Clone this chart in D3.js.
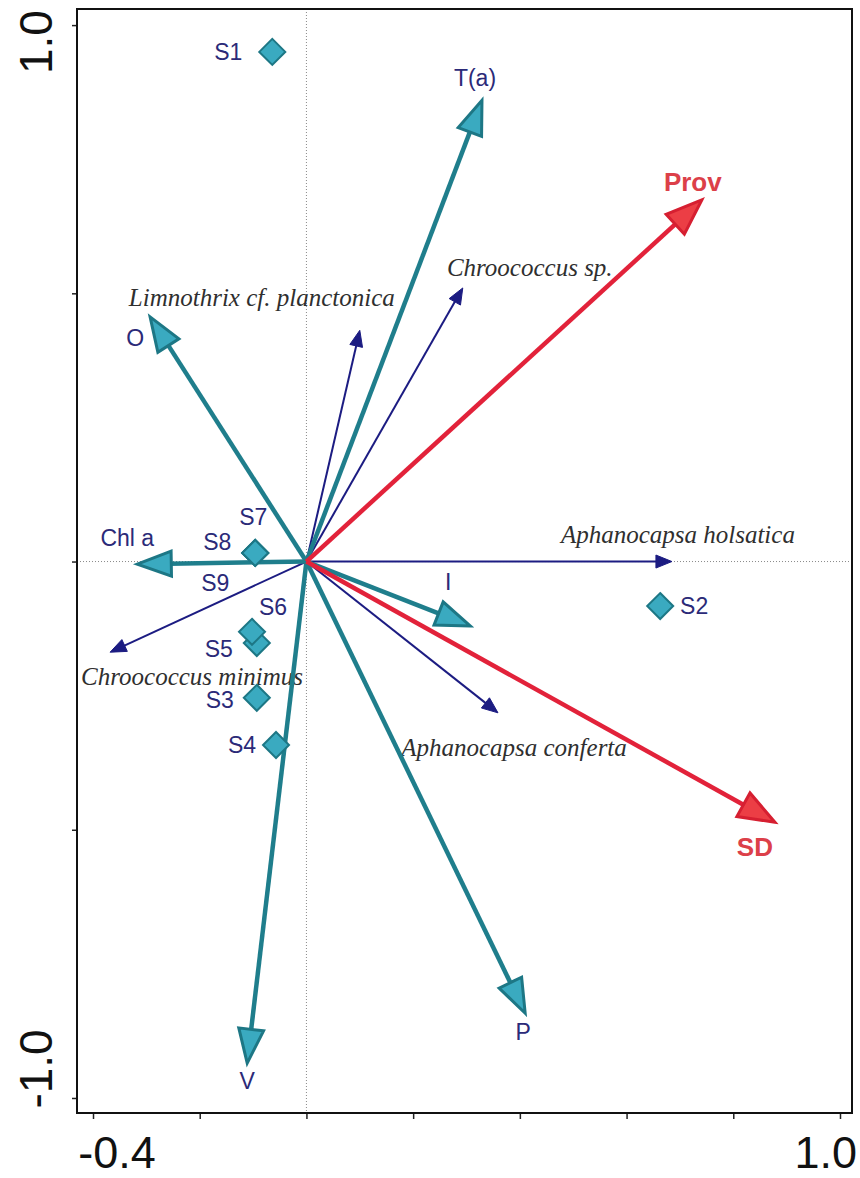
<!DOCTYPE html>
<html>
<head>
<meta charset="utf-8">
<script src="https://cdnjs.cloudflare.com/ajax/libs/d3/7.8.5/d3.min.js"></script>
<style>
  html, body { margin: 0; padding: 0; background: #fff; }
  svg { display: block; }
</style>
</head>
<body>
<svg id="chart" width="860" height="1178"></svg>
<script>
// RDA biplot: environmental vectors, species vectors and sampling sites

// environmental variables (teal)
const envNames = ["T(a)", "O", "Chl a", "V", "P", "I"];
const envX = [0.329, -0.293, -0.317, -0.111, 0.410, 0.307];
const envY = [0.860, 0.456, -0.005, -0.935, -0.842, -0.120];

// highlighted variables (red)
const keyNames = ["Prov", "SD"];
const keyX = [0.741, 0.878];
const keyY = [0.674, -0.486];

// species (navy, thin)
const spNames = ["Aphanocapsa holsatica", "Aphanocapsa conferta", "Chroococcus sp.", "Chroococcus minimus", "Limnothrix cf. planctonica"];
const spX = [0.685, 0.359, 0.293, -0.368, 0.100];
const spY = [0.000, -0.282, 0.510, -0.169, 0.431];

// sites
const siteNames = ["S1", "S2", "S3", "S4", "S5", "S6", "S7", "S8", "S9"];
const siteX = [-0.064, 0.663, -0.093, -0.057, -0.093, -0.102, -0.096, -0.096, -0.096];
const siteY = [0.950, -0.083, -0.254, -0.342, -0.152, -0.131, 0.016, 0.016, 0.016];

// axis ticks
const xTicks = [-0.4, -0.2, 0, 0.2, 0.4, 0.6, 0.8, 1.0];
const yTicks = [-1.0, -0.5, 0, 0.5, 1.0];
const xTickLabels = ["-0.4", "1.0"];
const yTickLabels = ["-1.0", "1.0"];

// label placement (pixel offsets from the point / arrow tip)
const labelOffset = {
  "T(a)": [-7, -22], "O": [-15, 21], "Chl a": [-10, -26], "V": [0, 18], "P": [-2, 19], "I": [-22, -44],
  "Prov": [-9, -18], "SD": [-20, 25],
  "Aphanocapsa holsatica": [6, -27], "Aphanocapsa conferta": [16, 35], "Chroococcus sp.": [67, -20],
  "Chroococcus minimus": [82, 24], "Limnothrix cf. planctonica": [-98, -33],
  "S1": [-44, 0], "S2": [34, 0], "S3": [-37, 2], "S4": [-34, 0], "S5": [-38, 6],
  "S6": [21, -25], "S7": [-2, -36], "S8": [-38, -11], "S9": [-40, 30]
};

const svg = d3.select("#chart");
const plotLeft = 77, plotRight = 852, plotTop = 9, plotBottom = 1113;

const x = d3.scaleLinear().domain([-0.43, 1.0225]).range([plotLeft, plotRight]);
const y = d3.scaleLinear().domain([-1.028, 1.03]).range([plotBottom, plotTop]);

const SANS = "'Liberation Sans', Arial, Helvetica, sans-serif";
const SERIF = "'Liberation Serif', 'Times New Roman', serif";
const labelColor = "#2b2a78";

// zero reference lines
svg.append("line").attr("x1", x(0)).attr("x2", x(0)).attr("y1", plotTop).attr("y2", plotBottom)
  .attr("stroke", "#8a8a8a").attr("stroke-width", 1).attr("stroke-dasharray", "1,2");
svg.append("line").attr("x1", plotLeft).attr("x2", plotRight).attr("y1", y(0)).attr("y2", y(0))
  .attr("stroke", "#8a8a8a").attr("stroke-width", 1).attr("stroke-dasharray", "1,2");

// axes with outward ticks; only end values labelled
const xAxis = d3.axisBottom(x).tickValues(xTicks).tickSize(6).tickFormat("");
const yAxis = d3.axisLeft(y).tickValues(yTicks).tickSize(5).tickFormat("");
const gx = svg.append("g").attr("transform", `translate(0,${plotBottom})`).call(xAxis);
const gy = svg.append("g").attr("transform", `translate(${plotLeft},0)`).call(yAxis);
[gx, gy].forEach(g => {
  g.select(".domain").remove();
  g.selectAll(".tick line").attr("stroke", "#222").attr("stroke-width", 1.5);
});

// frame
svg.append("rect").attr("x", plotLeft).attr("y", plotTop).attr("width", plotRight - plotLeft).attr("height", plotBottom - plotTop)
  .attr("fill", "none").attr("stroke", "#111").attr("stroke-width", 2);

// tick labels
svg.append("text").attr("x", x(-0.4) + 24).attr("y", 1168)
  .attr("text-anchor", "middle")
  .attr("font-family", SANS).attr("font-size", 45).attr("fill", "#111").text(xTickLabels[0]);
svg.append("text").attr("x", x(1.0) + 17).attr("y", 1168)
  .attr("text-anchor", "end")
  .attr("font-family", SANS).attr("font-size", 45).attr("fill", "#111").text(xTickLabels[1]);
svg.append("text").attr("transform", `translate(36,${y(-1.0) - 29}) rotate(-90)`)
  .attr("text-anchor", "middle").attr("dominant-baseline", "central")
  .attr("font-family", SANS).attr("font-size", 46).attr("fill", "#111").text(yTickLabels[0]);
svg.append("text").attr("transform", `translate(36,${y(1.0) + 17}) rotate(-90)`)
  .attr("text-anchor", "middle").attr("dominant-baseline", "central")
  .attr("font-family", SANS).attr("font-size", 46).attr("fill", "#111").text(yTickLabels[1]);

// arrow helper: shaft from origin to head base, triangular head at the tip
function arrow(g, vx, vy, opt) {
  const x0 = x(0), y0 = y(0), x1 = x(vx), y1 = y(vy);
  const dx = x1 - x0, dy = y1 - y0, len = Math.hypot(dx, dy);
  const ux = dx / len, uy = dy / len, px = -uy, py = ux;
  const bx = x1 - ux * opt.headLen, by = y1 - uy * opt.headLen;
  g.append("line").attr("x1", x0).attr("y1", y0).attr("x2", bx + ux * 2).attr("y2", by + uy * 2)
    .attr("stroke", opt.color).attr("stroke-width", opt.width).attr("stroke-linecap", "butt");
  const pts = [[x1, y1], [bx + px * opt.headW, by + py * opt.headW], [bx - px * opt.headW, by - py * opt.headW]];
  g.append("path").attr("d", d3.line()(pts) + "Z")
    .attr("fill", opt.fill).attr("stroke", opt.headStroke).attr("stroke-width", opt.headStrokeW)
    .attr("stroke-linejoin", "miter");
}

function label(g, name, px, py, style) {
  const off = labelOffset[name] || [0, 0];
  g.append("text").attr("x", px + off[0]).attr("y", py + off[1])
    .attr("text-anchor", "middle").attr("dominant-baseline", "central")
    .attr("font-family", style.family).attr("font-size", style.size)
    .attr("font-style", style.italic ? "italic" : "normal")
    .attr("font-weight", style.bold ? "bold" : "normal")
    .attr("fill", style.color).text(name);
}

// species vectors
const gSp = svg.append("g");
spNames.forEach((n, i) => {
  label(gSp, n, x(spX[i]), y(spY[i]), { family: SERIF, size: 25, italic: true, color: "#2f2f2f" });
});
spNames.forEach((n, i) => {
  arrow(gSp, spX[i], spY[i], { color: "#1c1c82", width: 2, headLen: 16, headW: 6.5, fill: "#1c1c82", headStroke: "#1c1c82", headStrokeW: 1 });
});

// environmental vectors
const gEnv = svg.append("g");
envNames.forEach((n, i) => {
  arrow(gEnv, envX[i], envY[i], { color: "#1f7e8c", width: 4.5, headLen: 34, headW: 12.5, fill: "#3aaac0", headStroke: "#1d7785", headStrokeW: 3 });
  label(gEnv, n, x(envX[i]), y(envY[i]), { family: SANS, size: 23, color: labelColor });
});

// highlighted vectors
const gKey = svg.append("g");
keyNames.forEach((n, i) => {
  arrow(gKey, keyX[i], keyY[i], { color: "#e2223a", width: 4.5, headLen: 36, headW: 13.5, fill: "#ec3e45", headStroke: "#d61f31", headStrokeW: 3 });
  label(gKey, n, x(keyX[i]), y(keyY[i]), { family: SANS, size: 26, bold: true, color: "#dc4049" });
});

// sites
const gSite = svg.append("g");
siteNames.forEach((n, i) => {
  const cx = x(siteX[i]), cy = y(siteY[i]), r = 13;
  gSite.append("path").attr("d", `M${cx},${cy - r}L${cx + r},${cy}L${cx},${cy + r}L${cx - r},${cy}Z`)
    .attr("fill", "#3aaac0").attr("stroke", "#1d7785").attr("stroke-width", 2);
  label(gSite, n, cx, cy, { family: SANS, size: 23, color: labelColor });
});
</script>
</body>
</html>
